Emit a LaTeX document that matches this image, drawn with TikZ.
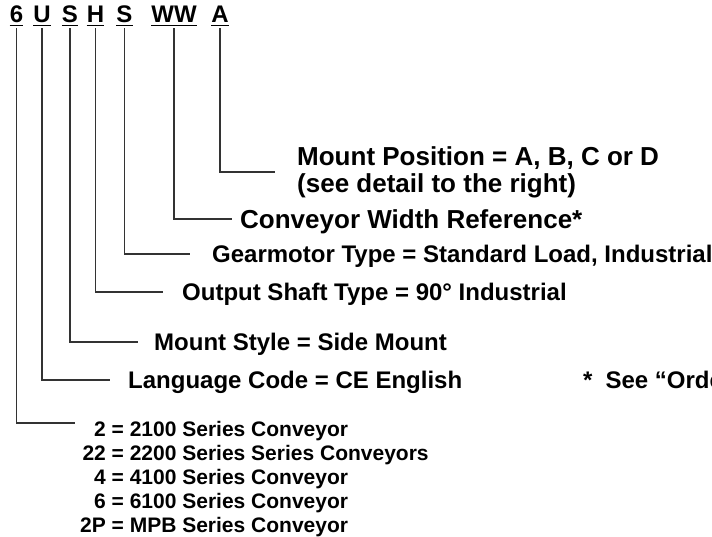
\documentclass[tikz,border=0pt]{standalone}
\usepackage{fontspec}
\setmainfont{Liberation Sans}
\usepackage{tikz}
\usetikzlibrary{positioning}

\begin{document}
\begin{tikzpicture}[x=1pt, y=-1pt,
  code/.style={font=\bfseries\fontsize{24}{28}\selectfont, anchor=base,
               inner xsep=0pt, inner ysep=2pt, text height=17.3pt, text depth=0pt},
  lbl/.style={font=\bfseries\fontsize{24}{28}\selectfont, anchor=west,
              inner sep=0pt, text height=17.3pt, text depth=0pt},
  big/.style={lbl, font=\bfseries\fontsize{26}{27}\selectfont, text height=18.7pt},
  twoline/.style={font=\bfseries\fontsize{26}{27}\selectfont, anchor=west,
                  inner sep=0pt, align=left},
  lst/.style={font=\bfseries\fontsize{21}{24}\selectfont, anchor=base west, inner sep=0pt},
  lead/.style={draw=black!80, line width=1.1pt, shorten <=3pt},
  ul/.style={draw=black, line width=1.3pt},
]
\useasboundingbox (0,0) rectangle (712,537);

% model code letters
\node[code] (c6)  at (16.5,23) {6};
\node[code] (cU)  at (42,23)   {U};
\node[code] (cS1) at (70,23)   {S};
\node[code] (cH)  at (95.5,23) {H};
\node[code] (cS2) at (124.5,23) {S};
\node[code] (cWW) at (174,23)  {WW};
\node[code] (cA)  at (220,23)  {A};
\foreach \c in {c6,cU,cS1,cH,cS2,cWW,cA}
  \draw[ul] (\c.south west) -- (\c.south east);

% meanings
\node[twoline] (mpos) at (297,172) {Mount Position = A, B, C or D\\(see detail to the right)};
\node[big] (conv) at (240,219) {Conveyor Width Reference*};
\node[lbl] (gear) at (212,254) {Gearmotor Type = Standard Load, Industrial};
\node[lbl] (shaft) at (182,292) {Output Shaft Type = 90° Industrial};
\node[lbl] (mstyle) at (154,342) {Mount Style = Side Mount};
\node[lbl] (lang) at (128,380) {Language Code = CE English};
\node[lbl] (note) at (583,380) {*\hspace{13pt}See “Orde};
\node[lst] (series) at (80,436.5) {\begin{tabular}[t]{@{}r@{ = }l@{}}
  2 & 2100 Series Conveyor\\
  22 & 2200 Series Series Conveyors\\
  4 & 4100 Series Conveyor\\
  6 & 6100 Series Conveyor\\
  2P & MPB Series Conveyor
\end{tabular}};
\coordinate (serend) at (75,423);

\draw[lead, shorten >=22pt] (cA.south) |- (mpos.west);
\draw[lead, shorten >=8pt] (cWW.south) |- (conv.west);
\draw[lead, shorten >=22pt] (cS2.south) |- (gear.west);
\draw[lead, shorten >=19pt] (cH.south) |- (shaft.west);
\draw[lead, shorten >=16pt] (cS1.south) |- (mstyle.west);
\draw[lead, shorten >=18pt] (cU.south) |- (lang.west);
\draw[lead] (c6.south) |- (serend);
\end{tikzpicture}
\end{document}
